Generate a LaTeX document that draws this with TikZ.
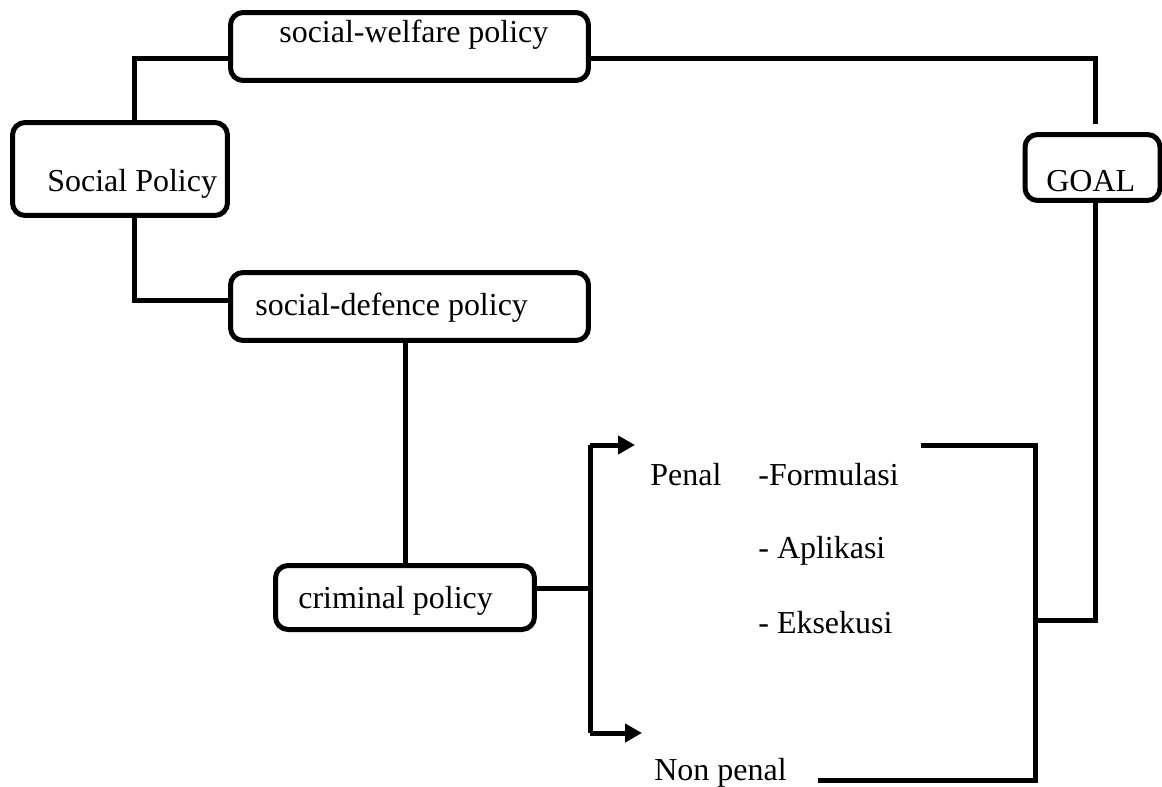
\documentclass[tikz,border=0pt]{standalone}
\usepackage{fontspec}
\setmainfont{Liberation Serif}
\usetikzlibrary{arrows.meta}
\tikzset{
  box/.style={draw, line width=0.1cm, rounded corners=0.25cm, inner sep=0pt},
  lbl/.style={anchor=base west, inner sep=0pt, font=\fontsize{18.2}{22}\selectfont},
  conn/.style={line width=0.1cm},
  arr/.style={conn, -{Triangle[length=0.34cm, width=0.36cm]}}
}
\begin{document}
\begin{tikzpicture}[x=0.02cm, y=-0.02cm]
\useasboundingbox (0,0) rectangle (1162,787);
% boxes
\node[box, minimum width=7.16cm, minimum height=1.36cm] (sw) at (409.5,46.5) {};
\node[box, minimum width=4.3cm, minimum height=1.86cm] (sp) at (120,169) {};
\node[box, minimum width=7.16cm, minimum height=1.36cm] (sd) at (409.5,306.5) {};
\node[box, minimum width=5.18cm, minimum height=1.28cm] (cp) at (405,597.5) {};
\node[box, minimum width=2.7cm, minimum height=1.32cm] (goal) at (1092.5,167.5) {};
% box texts
\node[lbl] (tsw) at (279,43) {social-welfare policy};
\node[lbl] (tsp) at (47,192) {Social Policy};
\node[lbl] (tsd) at (255,315) {social-defence policy};
\node[lbl] (tcp) at (298,608) {criminal policy};
\node[lbl] (tgoal) at (1046,192) {GOAL};
% free texts
\node[lbl] (tpenal) at (650,485) {Penal};
\node[lbl] (tform) at (758,485) {-Formulasi};
\node[lbl] (tapl) at (758,558) {- Aplikasi};
\node[lbl] (teks) at (758,633) {- Eksekusi};
\node[lbl] (tnon) at (654,780) {Non penal};
% junction coordinates
\coordinate (pt) at (590,445);
\coordinate (pb) at (590,733);
\coordinate (pa) at (635,445);
\coordinate (na) at (642,733);
\coordinate (bt) at (921,445);
\coordinate (bm) at (1035,620);
\coordinate (bb) at (818,780);
% connectors
\draw[conn] (134,0 |- sp.north) |- (sw.west |- 0,59);
\draw[conn] (134,0 |- sp.south) |- (sd.west |- 0,300);
\draw[conn, shorten >=0.16cm] (sw.east |- 0,59) -| (1095,0 |- goal.north);
\draw[conn] (405,0 |- sd.south) -- (405,0 |- cp.north);
\draw[conn] (cp.east |- 0,588) -- (590,588);
\draw[conn] (pt) -- (pb);
\draw[arr] (pt) -- (pa);
\draw[arr] (pb) -- (na);
\draw[conn] (bt) -| (bm) |- (bb);
\draw[conn] (bm) -| (1095,0 |- goal.south);
\end{tikzpicture}
\end{document}
